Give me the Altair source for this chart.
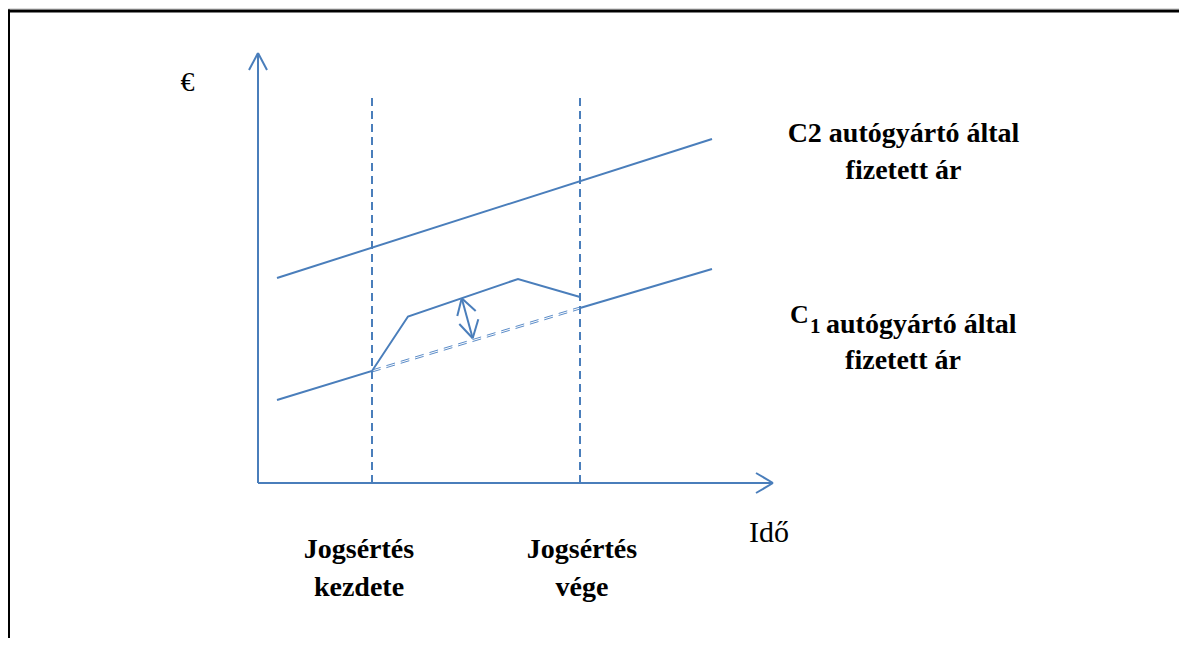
import altair as alt
import pandas as pd

BLUE = "#4a7ebb"
LIGHT_BLUE = "#5b8cc8"
SERIF = "Liberation Serif, Times New Roman, serif"

# ---- coordinate system: t = time units (x), v = price units (y) ----
X_DOMAIN = [-25.0, 92.1]
Y_DOMAIN = [-15.5, 47.5]
W, H = 1171, 630

# axes with arrow heads: segments (t, v, t2, v2)
axis_t  = [0.0, 0.0, 0.0, 0.0, 51.5, 51.5]
axis_v  = [0.0, 43.0, 43.0, 0.0, 0.0, 0.0]
axis_t2 = [0.0, -0.9, 0.9, 51.5, 49.8, 49.8]
axis_v2 = [43.0, 41.3, 41.3, 0.0, 1.0, -1.0]

# infringement start / end (dashed verticals)
event_t = [11.4, 32.2]
event_top = [39.0, 39.0]

# price paid by car maker C2
c2_t = [1.9, 45.4]
c2_v = [20.5, 34.4]

# price paid by car maker C1 (actual)
c1_t = [1.9, 11.4, 15.0, 26.0, 32.2]
c1_v = [8.3, 11.2, 16.65, 20.4, 18.6]
c1_after_t = [32.2, 45.4]
c1_after_v = [17.5, 21.4]

# counterfactual (double dashed) for C1
cf_t = [11.4, 32.2]
cf_v_a = [11.3, 17.6]
cf_v_b = [11.1, 17.4]

# overcharge double arrow: segments
oc_t  = [20.37, 20.37, 20.37, 21.47, 21.47]
oc_v  = [18.47, 18.47, 18.47, 14.47, 14.47]
oc_t2 = [21.47, 19.93, 21.77, 20.13, 22.03]
oc_v2 = [14.47, 16.70, 17.20, 15.90, 16.37]

# texts
bold_center_text = ["Jogsértés", "kezdete", "Jogsértés", "vége",
                    "C2 autógyártó által", "fizetett ár", "fizetett ár"]
bold_center_t = [10.1, 10.1, 32.4, 32.4, 64.55, 64.55, 64.5]
bold_center_v = [-7.5, -11.3, -7.5, -11.3, 34.13, 30.4, 11.4]

c1_label_text = ["C", "1", "autógyártó által"]
c1_label_t = [53.2, 55.2, 56.8]
c1_label_v = [15.97, 15.0, 15.0]
c1_label_size = [26, 21, 28]

normal_text = ["€", "Idő"]
normal_t = [-7.05, 51.1]
normal_v = [39.2, -5.87]
normal_size = [28, 30]

xs = alt.Scale(domain=X_DOMAIN, nice=False, zero=False)
ys = alt.Scale(domain=Y_DOMAIN, nice=False, zero=False)


def X(f="t"):
    return alt.X(f"{f}:Q", scale=xs, axis=None)


def Y(f="v"):
    return alt.Y(f"{f}:Q", scale=ys, axis=None)


seg_solid = pd.DataFrame({
    "t": axis_t + c2_t[:1] + oc_t,
    "v": axis_v + c2_v[:1] + oc_v,
    "t2": axis_t2 + c2_t[1:] + oc_t2,
    "v2": axis_v2 + c2_v[1:] + oc_v2,
})
solid = alt.Chart(seg_solid).mark_rule(color=BLUE, strokeWidth=2).encode(
    x=X(), y=Y(), x2="t2:Q", y2="v2:Q")

ev = pd.DataFrame({"t": event_t, "v": [0.0, 0.0], "v2": event_top})
events = alt.Chart(ev).mark_rule(color=BLUE, strokeWidth=2, strokeDash=[8, 5]).encode(
    x=X(), y=Y(), y2="v2:Q")

c1_df = pd.DataFrame({"t": c1_t, "v": c1_v, "o": list(range(len(c1_t)))})
c1_line = alt.Chart(c1_df).mark_line(color=BLUE, strokeWidth=2).encode(
    x=X(), y=Y(), order="o:Q")

c1a_df = pd.DataFrame({"t": c1_after_t, "v": c1_after_v})
c1_after = alt.Chart(c1a_df).mark_line(color=BLUE, strokeWidth=2).encode(x=X(), y=Y())

cf_df = pd.DataFrame({"t": cf_t + cf_t, "v": cf_v_a + cf_v_b, "g": ["a", "a", "b", "b"]})
cf = alt.Chart(cf_df).mark_line(color=LIGHT_BLUE, strokeWidth=1, strokeDash=[9, 6]).encode(
    x=X(), y=Y(), detail="g:N")

bc_df = pd.DataFrame({"text": bold_center_text, "t": bold_center_t, "v": bold_center_v})
bold_center = alt.Chart(bc_df).mark_text(
    font=SERIF, fontWeight="bold", fontSize=28, align="center", baseline="alphabetic",
    color="black").encode(x=X(), y=Y(), text="text:N")

c1l_df = pd.DataFrame({"text": c1_label_text, "t": c1_label_t, "v": c1_label_v,
                       "size": c1_label_size})
c1_label = alt.Chart(c1l_df).mark_text(
    font=SERIF, fontWeight="bold", align="left", baseline="alphabetic",
    color="black").encode(x=X(), y=Y(), text="text:N",
                          size=alt.Size("size:Q", scale=None, legend=None))

nt_df = pd.DataFrame({"text": normal_text, "t": normal_t, "v": normal_v, "size": normal_size})
normal = alt.Chart(nt_df).mark_text(
    font=SERIF, align="center", baseline="alphabetic", color="black").encode(
    x=X(), y=Y(), text="text:N", size=alt.Size("size:Q", scale=None, legend=None))

border_top = alt.Chart(pd.DataFrame({"k": [0]})).mark_rule(color="black", strokeWidth=3).encode(
    x=alt.value(0), x2=alt.value(W), y=alt.value(3))
border_left = alt.Chart(pd.DataFrame({"k": [0]})).mark_rule(color="black", strokeWidth=3).encode(
    x=alt.value(0.5), y=alt.value(1.5), y2=alt.value(H))

chart = alt.layer(
    border_top, border_left, events, cf, solid, c1_line, c1_after,
    bold_center, c1_label, normal,
).properties(
    width=W, height=H, autosize=alt.AutoSizeParams(type="none"), padding=0,
).configure_view(stroke=None).configure(background="white")

chart.save("out.html", embed_options={"renderer": "svg", "actions": False})
